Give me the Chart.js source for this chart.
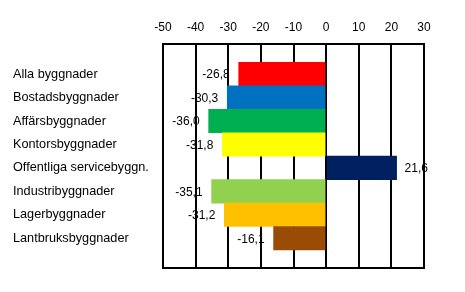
<!DOCTYPE html>
<html>
<head>
<meta charset="utf-8">
<script src="https://cdn.jsdelivr.net/npm/chart.js@4"></script>
<style>
  html, body { margin: 0; padding: 0; background: #fff; }
  canvas { display: block; }
</style>
</head>
<body>
<canvas id="myChart" width="465" height="292"></canvas>
<script>
const categories = ['Alla byggnader', 'Bostadsbyggnader', 'Affärsbyggnader', 'Kontorsbyggnader',
  'Offentliga servicebyggn.', 'Industribyggnader', 'Lagerbyggnader', 'Lantbruksbyggnader'];
const changes = [-26.8, -30.3, -36.0, -31.8, 21.6, -35.1, -31.2, -16.1];
const barColors = ['#ff0000', '#0070c0', '#00b050', '#ffff00', '#002060', '#92d050', '#ffc000', '#9a4b06'];
const xTicks = { min: -50, max: 30, step: 10 };

const FONT = 'Arial, "Liberation Sans", sans-serif';

// value labels with decimal comma, outside the bar end
const valueLabels = {
  id: 'valueLabels',
  afterDatasetsDraw(chart) {
    const ctx = chart.ctx;
    const meta = chart.getDatasetMeta(0);
    ctx.save();
    ctx.font = '12px ' + FONT;
    ctx.fillStyle = '#000';
    ctx.textBaseline = 'middle';
    meta.data.forEach((bar, i) => {
      const v = changes[i];
      const txt = v.toFixed(1).replace('.', ',');
      if (v < 0) {
        ctx.textAlign = 'right';
        ctx.fillText(txt, bar.x - 9, bar.y + 1);
      } else {
        ctx.textAlign = 'left';
        ctx.fillText(txt, bar.x + 8, bar.y + 1);
      }
    });
    ctx.restore();
  }
};

const ctx = document.getElementById('myChart');
new Chart(ctx, {
  type: 'bar',
  data: {
    datasets: [{
      data: changes.map((v, i) => ({ x: v, y: i })),
      backgroundColor: barColors,
      borderWidth: 0,
      barPercentage: 1,
      categoryPercentage: 1
    }]
  },
  plugins: [valueLabels],
  options: {
    indexAxis: 'y',
    responsive: false,
    animation: false,
    layout: { padding: { left: 13, right: 41, top: 10, bottom: 24 } },
    plugins: {
      legend: { display: false },
      tooltip: { enabled: false }
    },
    scales: {
      x: {
        position: 'top',
        min: xTicks.min,
        max: xTicks.max,
        ticks: { stepSize: xTicks.step, color: '#000', font: { size: 12, family: FONT }, padding: 10 },
        grid: { color: '#000', lineWidth: 2, drawTicks: false },
        border: { display: true, color: '#000', width: 2 }
      },
      x2: {
        position: 'bottom',
        min: xTicks.min,
        max: xTicks.max,
        ticks: { display: false },
        grid: { display: false, drawTicks: false },
        border: { display: true, color: '#000', width: 2 }
      },
      y: {
        type: 'linear',
        reverse: true,
        offset: false,
        min: -1.27,
        max: 8.27,
        afterFit: (scale) => { scale.width = 150; },
        ticks: {
          stepSize: 1,
          includeBounds: false,
          autoSkip: false,
          crossAlign: 'far',
          color: '#000',
          font: { size: 12.7, family: FONT },
          callback: (v) => (Number.isInteger(v) && categories[v] !== undefined) ? categories[v] : ''
        },
        grid: { display: false, offset: false },
        border: { display: true, color: '#000', width: 2 }
      }
    }
  }
});
</script>
</body>
</html>
